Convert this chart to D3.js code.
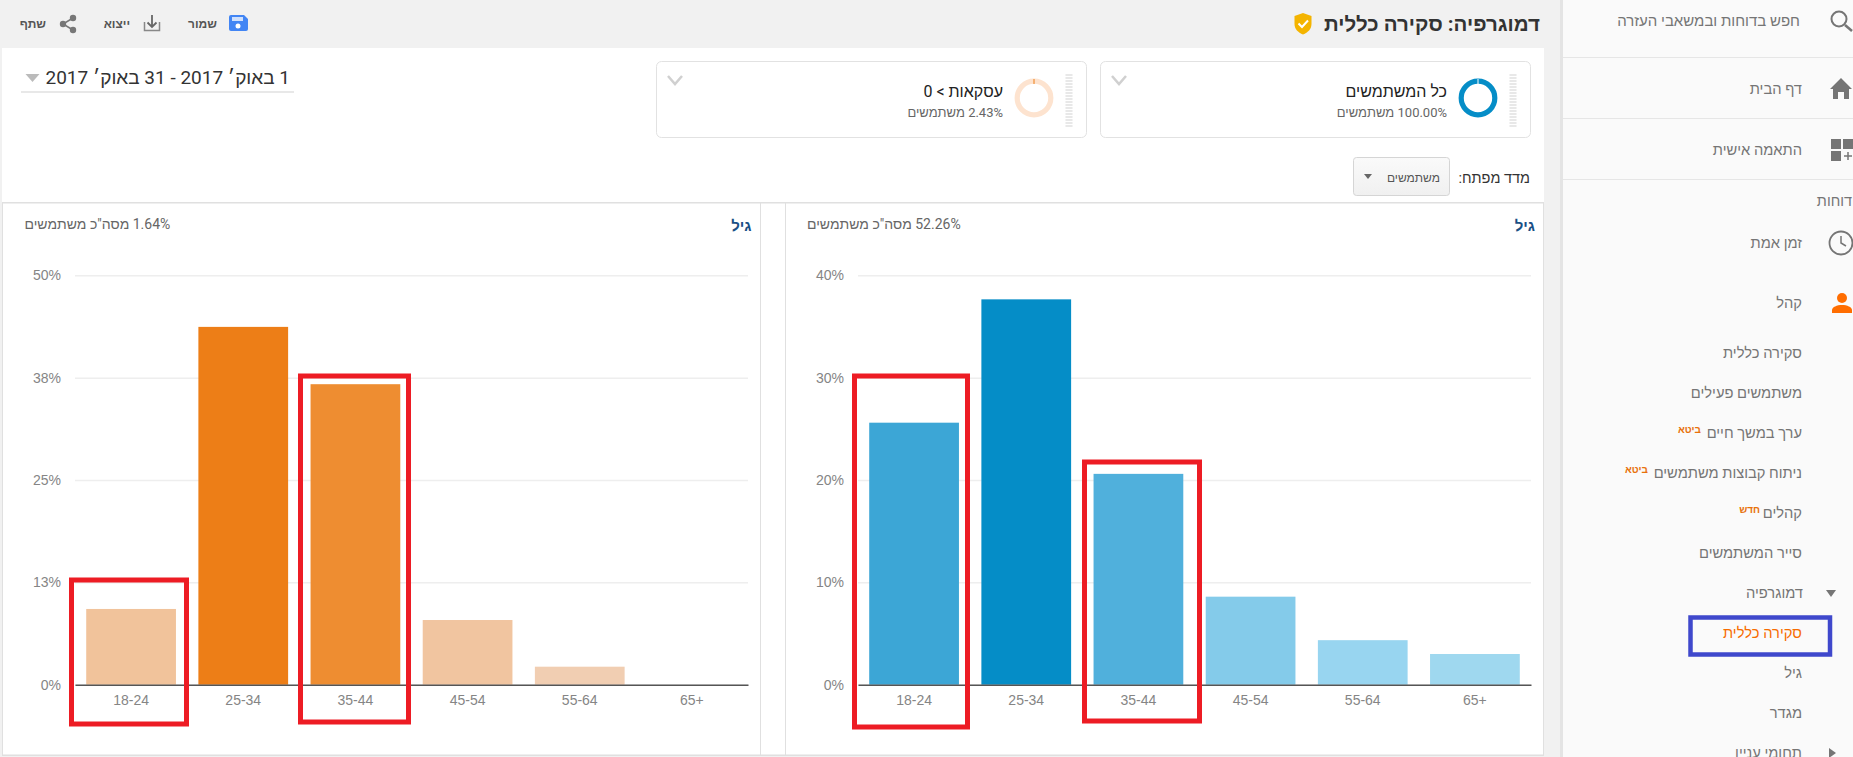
<!DOCTYPE html>
<html lang="he">
<head>
  <meta charset="UTF-8">
  <title>דמוגרפיה: סקירה כללית</title>
  <script src="https://d3js.org/d3.v7.min.js"></script>
  <style>
    html, body { margin: 0; padding: 0; background: #f1f1f1; overflow: hidden; }
    svg { display: block; font-family: Roboto, "Liberation Sans", Arial, sans-serif; }
    .rtl { direction: rtl; text-anchor: start; }
    .tick text { font-size: 14px; fill: #858585; }
  </style>
</head>
<body>
  <svg id="page" width="1853" height="757"></svg>
  <script>
    // chart data
    const ageGroups = ["18-24", "25-34", "35-44", "45-54", "55-64", "65+"];
    const allUsers = [25.6, 37.65, 20.6, 8.6, 4.35, 3.0];
    const buyers = [9.25, 43.7, 36.7, 7.9, 2.2, 0];
    const blueColors = ["#3ca6d6", "#058dc7", "#50b0dc", "#84cbea", "#98d5f0", "#9fd8ef"];
    const orangeColors = ["#f1c39b", "#ed7e17", "#ee8d31", "#f1c5a0", "#f1ceb2", "#f3d6bf"];
    const blueTicks = [0, 10, 20, 30, 40];
    const orangeTicks = [0, 12.5, 25, 37.5, 50];

    // side menu
    const menuItems = [
      ["דף הבית", 89, 1802], ["התאמה אישית", 150, 1802],
      ["זמן אמת", 243, 1802], ["קהל", 303, 1802], ["סקירה כללית", 353, 1802],
      ["משתמשים פעילים", 393, 1802], ["ערך במשך חיים", 433, 1802], ["ניתוח קבוצות משתמשים", 473, 1802],
      ["קהלים", 513, 1802], ["סייר המשתמשים", 553, 1802], ["דמוגרפיה", 593, 1803],
      ["גיל", 673, 1802], ["מגדר", 713, 1802], ["תחומי עניין", 753, 1802]
    ];
    const menuBadges = [["ביטא", 429, 1701], ["ביטא", 469, 1648], ["חדש", 509, 1760]];
    const menuDividers = [57, 118, 179];

    const svg = d3.select("#page");

    function rect(x, y, w, h, fill, stroke) {
      return svg.append("rect").attr("x", x).attr("y", y).attr("width", w).attr("height", h)
        .attr("fill", fill || "none").attr("stroke", stroke || "none");
    }
    function label(str, x, y, size, color, weight, parent) {
      return (parent || svg).append("text").attr("class", "rtl").attr("x", x).attr("y", y)
        .attr("dy", "0.35em").attr("font-size", size).attr("fill", color)
        .attr("font-weight", weight || "normal").text(str);
    }
    function path(d, fill, stroke, width) {
      return svg.append("path").attr("d", d).attr("fill", fill || "none")
        .attr("stroke", stroke || "none").attr("stroke-width", width || 1);
    }

    // page areas
    rect(2, 48, 1542, 707, "#fff");
    rect(1563, 0, 290, 757, "#fafafa");
    rect(1560, 0, 3, 757, "#e4e4e4");

    // toolbar
    label("דמוגרפיה: סקירה כללית", 1540, 24, 20.5, "#333", "bold");
    path("M1303 13l8.5 3v8c0 5-3.5 8.500-8.500 10.500c-5-2-8.500-5.500-8.500-10.500v-8z", "#f4b400");
    path("M1298.500 23.500l3.500 3.500l6-6.500", "none", "#fff", 2);
    path("M231 15h13l4 4v10a2 2 0 0 1-2 2h-15a2 2 0 0 1-2-2v-12a2 2 0 0 1 2-2z", "#4285f4");
    rect(232, 17, 11, 4, "#cfe0fc");
    svg.append("circle").attr("cx", 238).attr("cy", 26).attr("r", 2.5).attr("fill", "#fff");
    label("שמור", 217, 24, 12, "#555", "bold");
    path("M144.500 22v8.500h15v-8.500", "none", "#888", 1.5);
    path("M152 15v12m-4.500-4.500l4.500 4.500l4.500-4.500", "none", "#666", 1.8);
    label("ייצוא", 130, 24, 12, "#555", "bold");
    path("M73 18l-10 6l10 6", "none", "#777", 1.5);
    svg.selectAll(".share").data([[73, 18], [63, 24], [73, 30]]).enter().append("circle")
      .attr("cx", d => d[0]).attr("cy", d => d[1]).attr("r", 3.2).attr("fill", "#777");
    label("שתף", 46, 24, 12, "#555", "bold");

    // date range
    label("1 באוק׳ 2017 - 31 באוק׳ 2017", 290, 77, 19, "#333");
    rect(21, 91, 273, 2, "#e8e8e8");
    path("M25.500 74h14l-7 8z", "#bbb");

    // segment cards
    function card(x, title, sub, ringColor, tickColor) {
      rect(x + .5, 61.5, 430, 76, "#fff", "#e2e2e2").attr("rx", 5);
      svg.append("line").attr("x1", x + 413).attr("x2", x + 413).attr("y1", 74).attr("y2", 127)
        .attr("stroke", "#e8e8e8").attr("stroke-width", 7).attr("stroke-dasharray", "2 1");
      svg.append("circle").attr("cx", x + 378).attr("cy", 98).attr("r", 16.8)
        .attr("fill", "none").attr("stroke", ringColor).attr("stroke-width", 5.2);
      svg.append("line").attr("x1", x + 378).attr("x2", x + 378).attr("y1", 79).attr("y2", 84)
        .attr("stroke", tickColor).attr("stroke-width", 1);
      label(title, x + 347, 91, 16, "#222");
      label(sub, x + 347, 112, 13, "#666");
      path(`M${x + 12} 76l7 8l7-8`, "none", "#d0d0d0", 2.5);
    }
    card(1100, "כל המשתמשים", "100.00% משתמשים", "#058dc7", "#fff");
    card(656, "עסקאות > 0", "2.43% משתמשים", "#fde3cf", "#ed7e17");

    // key metric selector
    label("מדד מפתח:", 1530, 178, 14.5, "#333");
    const gradient = svg.append("defs").append("linearGradient").attr("id", "btn")
      .attr("x1", 0).attr("x2", 0).attr("y1", 0).attr("y2", 1);
    gradient.append("stop").attr("offset", 0).attr("stop-color", "#fafafa");
    gradient.append("stop").attr("offset", 1).attr("stop-color", "#f0f0f0");
    rect(1353.5, 157.5, 96, 38, "url(#btn)", "#d5d5d5").attr("rx", 3);
    label("משתמשים", 1440, 178, 12, "#555");
    path("M1364 174h8l-4 5z", "#666");

    // panel frame
    rect(2, 202, 1542, 1.500, "#e0e0e0");
    rect(2, 754.5, 1542, 1.500, "#e0e0e0");
    rect(2, 202, 1, 553, "#e0e0e0");
    rect(760, 202, 1, 553, "#e0e0e0");
    rect(785, 202, 1, 553, "#e0e0e0");
    rect(1543, 202, 1, 553, "#e0e0e0");

    function drawChart(left, values, colors, ticks, yMax, total, totalLeft, titleRight) {
      const width = 673, top = 275.3, bottom = 684.7;
      const x = d3.scaleBand().domain(ageGroups).range([left, left + width]).paddingInner(0.2).paddingOuter(0.1);
      const y = d3.scaleLinear().domain([0, yMax]).range([bottom, top]);

      label("גיל", titleRight, 226, 15, "#1a4f85", "bold");
      label(total, totalLeft, 224, 14, "#666").style("text-anchor", "end");

      svg.append("g").attr("transform", `translate(${left},0)`)
        .call(d3.axisLeft(y).tickValues(ticks).tickSize(-width).tickPadding(14)
          .tickFormat(d => Math.round(d) + "%"))
        .call(g => g.select(".domain").remove())
        .call(g => g.selectAll(".tick line").attr("stroke", "#eeeeee").attr("stroke-width", 1.5))
        .call(g => g.selectAll(".tick text").attr("font-family", null));

      svg.append("g").selectAll("rect").data(values).enter().append("rect")
        .attr("x", (d, i) => x(ageGroups[i]))
        .attr("y", d => y(d))
        .attr("width", x.bandwidth())
        .attr("height", d => y(0) - y(d))
        .attr("fill", (d, i) => colors[i]);

      svg.append("g").attr("transform", `translate(0,${bottom})`)
        .call(d3.axisBottom(x).tickSize(0).tickPadding(10))
        .call(g => g.select(".domain").attr("stroke", "#555").attr("stroke-width", 1.5))
        .call(g => g.selectAll(".tick text").attr("font-family", null));
    }
    drawChart(858, allUsers, blueColors, blueTicks, 40, '52.26% מסה"כ משתמשים', 807, 1535);
    drawChart(75, buyers, orangeColors, orangeTicks, 50, '1.64% מסה"כ משתמשים', 24.5, 751.5);

    // red highlight boxes
    const highlights = [[71.5, 580, 115, 144], [300.5, 376, 108, 346], [854.5, 376, 113, 351], [1084.5, 462, 115, 259]];
    svg.selectAll(".highlight").data(highlights).enter().append("rect").attr("class", "highlight")
      .attr("x", d => d[0]).attr("y", d => d[1]).attr("width", d => d[2]).attr("height", d => d[3])
      .attr("fill", "none").attr("stroke", "#ed1c24").attr("stroke-width", 5);

    // side menu
    svg.selectAll(".divider").data(menuDividers).enter().append("rect").attr("class", "divider")
      .attr("x", 1563).attr("y", d => d).attr("width", 290).attr("height", 1).attr("fill", "#e6e6e6");
    label("חפש בדוחות ובמשאבי העזרה", 1800, 21, 15, "#757575");
    menuItems.forEach(d => label(d[0], d[2], d[1], 14.7, "#757575"));
    menuBadges.forEach(d => label(d[0], d[2], d[1], 10, "#e8710a", "bold"));
    label("דוחות", 1852, 201, 14.5, "#757575");
    label("סקירה כללית", 1802, 633, 14.7, "#f76c00");
    rect(1690.5, 617.5, 139.5, 37, null, "#3f48cc").attr("stroke-width", 4.5);

    // side menu icons
    svg.append("circle").attr("cx", 1839).attr("cy", 19).attr("r", 7.500).attr("fill", "none")
      .attr("stroke", "#757575").attr("stroke-width", 2);
    path("M1845 25l7 6", "none", "#757575", 2.5);
    path("M1841 78l11 11h-3v10h-5v-7h-6v7h-5v-10h-3z", "#757575");
    rect(1831, 139, 10, 10, "#757575");
    rect(1843, 139, 10, 10, "#757575");
    rect(1831, 151, 10, 10, "#757575");
    path("M1848 152v8m-4-4h8", "none", "#757575", 1.5);
    svg.append("circle").attr("cx", 1841).attr("cy", 243).attr("r", 11.500).attr("fill", "none")
      .attr("stroke", "#757575").attr("stroke-width", 1.8);
    path("M1841 236v7l5 3", "none", "#757575", 1.5);
    svg.append("circle").attr("cx", 1842).attr("cy", 298).attr("r", 5).attr("fill", "#ff6d00");
    path("M1832 313v-3c0-3 5-5 10-5s10 2 10 5v3z", "#ff6d00");
    path("M1826 590h10l-5 7z", "#757575");
    path("M1829 748l7 5l-7 5z", "#757575");
  </script>
</body>
</html>
